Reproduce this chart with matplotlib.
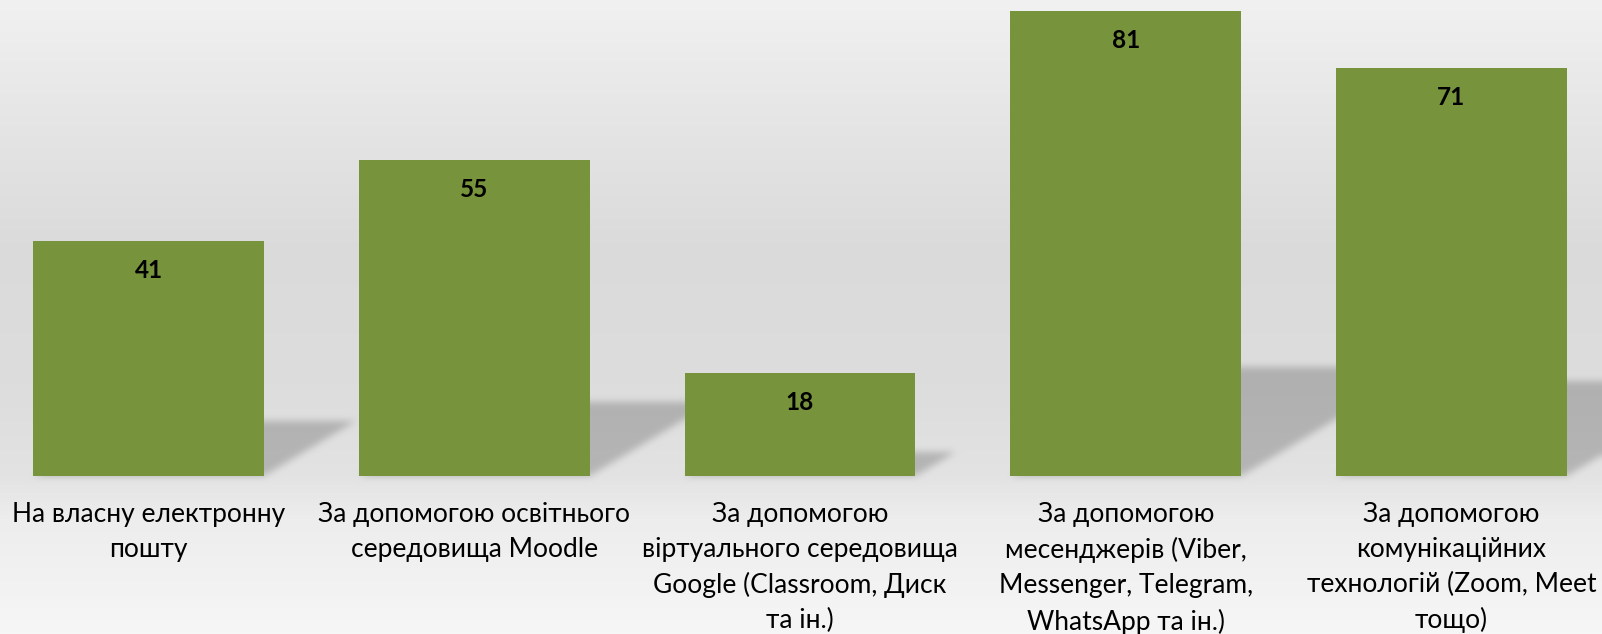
import numpy as np
import matplotlib
matplotlib.use('Agg')
import matplotlib.pyplot as plt
from matplotlib.path import Path

# ---------------- data ----------------
categories = [
    "На власну електронну\nпошту",
    "За допомогою освітнього\nсередовища Moodle",
    "За допомогою\nвіртуального середовища\nGoogle (Classroom, Диск\nта ін.)",
    "За допомогою\nмесенджерів (Viber,\nMessenger, Telegram,\nWhatsApp та ін.)",
    "За допомогою\nкомунікаційних\nтехнологій (Zoom, Meet\nтощо)",
]
values = [41, 55, 18, 81, 71]

# ---------------- layout ----------------
W, H = 1602, 634
DPI = 100
base_px = 476          # baseline, px from top
px_per_unit = 5.741
pitch = 325.75
first_center = 148.5
bar_color = '#77933C'
font = ['Lato', 'DejaVu Sans']

fig = plt.figure(figsize=(W / DPI, H / DPI), dpi=DPI)
bg_ax = fig.add_axes([0, 0, 1, 1])
bg_ax.set_axis_off()

left_px = first_center - pitch / 2
ax = fig.add_axes([left_px / W, (H - base_px) / H, 5 * pitch / W, base_px / H])
ax.set_xlim(-0.5, 4.5)
ax.set_ylim(0, base_px / px_per_unit)
ax.set_facecolor('none')
for s in ax.spines.values():
    s.set_visible(False)
ax.set_yticks([])

x = np.arange(len(values))
bar_w = 0.709
ax.bar(x, values, width=bar_w, color=bar_color, zorder=3)

ax.set_xticks(x)
ax.set_xticklabels(categories, family=font, fontsize=19, linespacing=1.5,
                   color='black')
ax.tick_params(axis='x', length=0, pad=18.5)

for xi, v in zip(x, values):
    ax.annotate(str(v), (xi, v), xytext=(0, -29.5 * 72 / DPI),
                textcoords='offset points', ha='center', va='center',
                family=font, fontsize=17.5, fontweight='bold', color='black',
                zorder=4)

# ---------------- background gradient + perspective shadows ----------------
stops_y = np.array([0, 120, 250, 400, 476, 520, 634], dtype=float)
stops_v = np.array([0.945, 0.90, 0.856, 0.868, 0.89, 0.93, 0.965])
rows = np.interp(np.arange(H) + 0.5, stops_y, stops_v)
bg = np.repeat(rows[:, None], W, axis=1)

yy, xx = np.mgrid[0:H, 0:W]
pts = np.column_stack([xx.ravel() + 0.5, (H - yy.ravel() - 0.5)])
mask = np.zeros(H * W)
for xi, v in zip(x, values):
    dxs = 0.006874 * v
    dys = 0.234 * v
    poly = [(xi - bar_w / 2, 0), (xi + bar_w / 2, 0),
            (xi + bar_w / 2 + dxs, dys), (xi - bar_w / 2 + dxs, dys)]
    pp = ax.transData.transform(poly)
    m = Path(pp).contains_points(pts)
    mask = np.maximum(mask, m.astype(float))
mask = mask.reshape(H, W)


def box_blur(a, r):
    k = 2 * r + 1
    p = np.pad(a, ((r, r), (0, 0)), mode='edge')
    c = np.cumsum(np.vstack([np.zeros((1, a.shape[1])), p]), axis=0)
    a = (c[k:] - c[:-k]) / k
    p = np.pad(a, ((0, 0), (r, r)), mode='edge')
    c = np.cumsum(np.hstack([np.zeros((a.shape[0], 1)), p]), axis=1)
    return (c[:, k:] - c[:, :-k]) / k


for _ in range(3):
    mask = box_blur(mask, 3)

img = bg * (1 - 0.2 * mask)
rgb = np.dstack([img, img, img])
bg_ax.imshow(rgb, extent=(0, 1, 0, 1), aspect='auto', interpolation='nearest')
bg_ax.set_xlim(0, 1)
bg_ax.set_ylim(0, 1)

fig.savefig('out.png', dpi=DPI)
